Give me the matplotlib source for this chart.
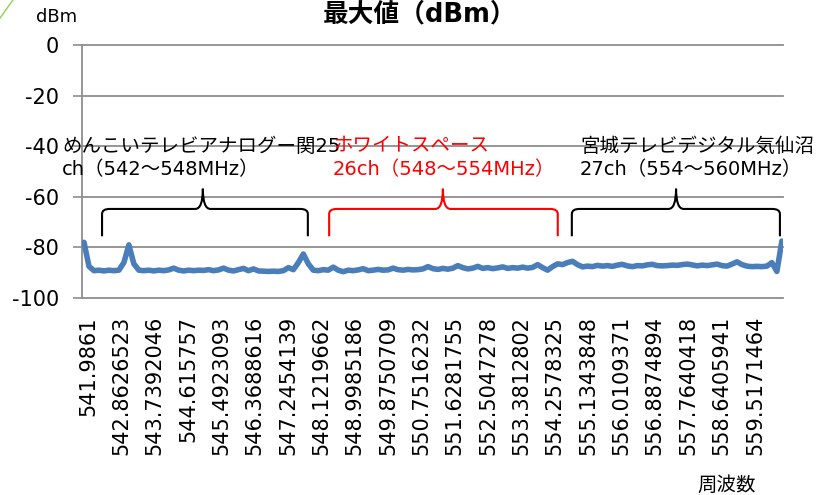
import numpy as np
import matplotlib
matplotlib.use("Agg")
import matplotlib.pyplot as plt
from matplotlib.path import Path
from matplotlib.patches import PathPatch
from matplotlib.lines import Line2D
from matplotlib.transforms import ScaledTranslation

# ---------------- data ----------------
F_START = 541.9861
F_END = 560.331
LEVEL_DBM = [
    -78.0, -87.5, -89.2, -89.0, -89.3, -89.0, -89.2, -89.0, -86.0, -79.0,
    -86.5, -89.0, -89.2, -89.0, -89.3, -89.0, -89.2, -88.9, -88.2, -89.0,
    -89.3, -89.0, -89.2, -89.0, -89.1, -88.8, -89.2, -88.9, -88.2, -89.0,
    -89.3, -88.8, -88.3, -89.2, -88.5, -89.3, -89.4, -89.5, -89.4, -89.5,
    -89.2, -88.0, -88.8, -86.0, -82.6, -86.5, -89.0, -89.2, -88.8, -89.0,
    -87.8, -89.0, -89.6, -89.0, -89.2, -88.9, -88.4, -89.2, -89.0, -88.7,
    -89.0, -88.9, -88.2, -88.8, -89.0, -88.7, -88.9, -88.8, -88.5, -87.6,
    -88.4, -88.7, -88.3, -88.6, -88.2, -87.2, -88.0, -88.5, -88.2, -87.5,
    -88.3, -88.0, -88.4, -88.1, -87.7, -88.3, -88.0, -88.2, -87.8, -88.2,
    -87.9, -86.8, -88.0, -89.0, -87.6, -86.5, -86.8, -86.0, -85.5, -86.8,
    -87.7, -87.4, -87.6, -87.1, -87.4, -87.2, -87.5, -87.0, -86.7, -87.3,
    -87.6, -87.2, -87.3, -86.9, -86.7, -87.2, -87.3, -87.2, -87.0, -87.1,
    -86.8, -86.6, -86.9, -87.3, -87.0, -87.2, -86.9, -86.6, -87.2, -87.4,
    -86.6, -85.7, -86.8, -87.4, -87.6, -87.5, -87.6, -87.4, -86.0, -89.5,
    -77.5,
]
TICK_LABELS = [
    "541.9861", "542.8626523", "543.7392046", "544.615757", "545.4923093",
    "546.3688616", "547.2454139", "548.1219662", "548.9985186", "549.8750709",
    "550.7516232", "551.6281755", "552.5047278", "553.3812802", "554.2578325",
    "555.1343848", "556.0109371", "556.8874894", "557.7640418", "558.6405941",
    "559.5171464",
]
Y_TICKS = [0, -20, -40, -60, -80, -100]
Y_TICK_LABELS = ["0", "-20", "-40", "-60", "-80", "-100"]

# channel annotations: (start MHz, end MHz, tip MHz), text lines, colour
BRACKET_START = [542.46, 548.43, 554.81]
BRACKET_END = [547.87, 554.44, 560.28]
BRACKET_TIP = [545.11, 551.42, 557.55]
LABEL_LINE1 = ["めんこいテレビアナログー関25", "ホワイトスペース", "宮城テレビデジタル気仙沼"]
LABEL_LINE2 = ["ch（542～548MHz）", "26ch（548～554MHz）", "27ch（554～560MHz）"]
LABEL_COLOR = ["black", "red", "black"]

TITLE = "最大値（dBm）"
Y_UNIT = "dBm"
X_TITLE = "周波数"

# ---------------- figure ----------------
W, H = 821, 495
DPI = 100
fig = plt.figure(figsize=(W / DPI, H / DPI), dpi=DPI)
fig.patch.set_facecolor("white")

def fx(px):
    return px / W

def fy(py):
    return 1 - py / H

JP = ["DejaVu Sans", "Noto Sans CJK JP"]

ax = fig.add_axes([fx(82), fy(298), fx(783) - fx(82), fy(45) - fy(298)])

freqs = np.linspace(F_START, F_END, len(LEVEL_DBM))
ax.plot(freqs, LEVEL_DBM, color="#4A7EBB", lw=4.0,
        solid_capstyle="round", solid_joinstyle="round", zorder=3)

ax.set_xlim(F_START - 0.053, F_END + 0.03)
ax.set_ylim(-100, 0)

ax.set_yticks(Y_TICKS)
ax.set_yticklabels(Y_TICK_LABELS, fontsize=15, family="DejaVu Sans")
ax.tick_params(axis="y", direction="out", length=6.5, width=1.2,
               color="#8E8E8E", pad=10)
ax.yaxis.grid(True, color="#8E8E8E", lw=1.3)
for gl in ax.get_ygridlines():
    gl.set_clip_on(False)

tick_freqs = [float(s) for s in TICK_LABELS]
ax.set_xticks(tick_freqs)
ax.set_xticklabels(TICK_LABELS, rotation=90, fontsize=15,
                   family="DejaVu Sans", ha="center", va="top")
ax.tick_params(axis="x", length=0, pad=13)
shift = ScaledTranslation(4 / DPI, 0, fig.dpi_scale_trans)
for lab in ax.get_xticklabels():
    lab.set_transform(lab.get_transform() + shift)

for s in ["top", "right", "bottom"]:
    ax.spines[s].set_visible(False)
ax.spines["left"].set_color("#8E8E8E")
ax.spines["left"].set_linewidth(1.3)
ax.set_axisbelow(True)

# brackets
Y_END, Y_BAR, Y_TIP = -75.6, -64.8, -56.8
R = 0.2     # MHz
K = 2.0     # dB
for x0, x1, xp, c in zip(BRACKET_START, BRACKET_END, BRACKET_TIP, LABEL_COLOR):
    verts = [
        (x0, Y_END), (x0, Y_BAR - K),
        (x0, Y_BAR), (x0 + R, Y_BAR),
        (xp - R, Y_BAR),
        (xp, Y_BAR), (xp, Y_TIP),
        (xp, Y_BAR), (xp + R, Y_BAR),
        (x1 - R, Y_BAR),
        (x1, Y_BAR), (x1, Y_BAR - K),
        (x1, Y_END),
    ]
    codes = [Path.MOVETO, Path.LINETO,
             Path.CURVE3, Path.CURVE3,
             Path.LINETO,
             Path.CURVE3, Path.CURVE3,
             Path.CURVE3, Path.CURVE3,
             Path.LINETO,
             Path.CURVE3, Path.CURVE3,
             Path.LINETO]
    ax.add_patch(PathPatch(Path(verts, codes), fill=False, edgecolor=c,
                           lw=1.5, clip_on=False, zorder=4))

# annotation texts
TEXT_X = [62, 333, 580]
for tx, l1, l2, c in zip(TEXT_X, LABEL_LINE1, LABEL_LINE2, LABEL_COLOR):
    fig.text(fx(tx), fy(146), l1, color=c, fontsize=14, family=JP,
             ha="left", va="center", zorder=5)
    fig.text(fx(tx), fy(170), l2, color=c, fontsize=14, family=JP,
             ha="left", va="center", zorder=5)

# titles
fig.text(fx(420), fy(1), TITLE, fontsize=18.5, fontweight="bold", family=JP,
         ha="center", va="top")
fig.text(fx(57), fy(17), Y_UNIT, fontsize=13, family=JP,
         ha="center", va="center")
fig.text(fx(727), fy(485), X_TITLE, fontsize=14, family=JP,
         ha="center", va="center")

# decorative corner line
fig.add_artist(Line2D([fx(0), fx(13)], [fy(18), fy(0)],
                      transform=fig.transFigure, color="#92D050", lw=1.0))

fig.savefig("out.png", dpi=DPI, facecolor="white")
